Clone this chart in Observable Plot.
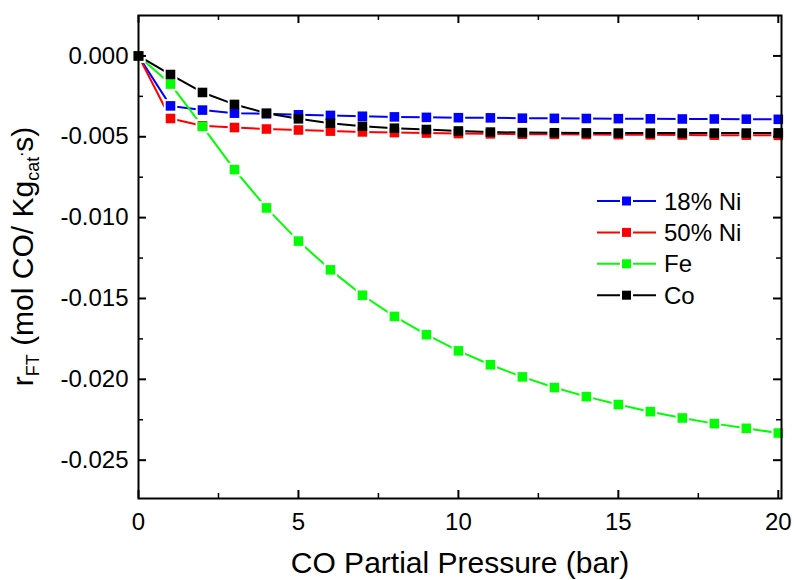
<!DOCTYPE html>
<html>
<head>
<meta charset="utf-8">
<script src="https://cdn.jsdelivr.net/npm/d3@7"></script>
<script src="https://cdn.jsdelivr.net/npm/@observablehq/plot@0.6"></script>
<style>
  html, body { margin: 0; padding: 0; background: #fff; }
  #chart { width: 794px; height: 580px; }
</style>
</head>
<body>
<div id="chart"></div>
<script>
// ---- data ----
const pressure = [0,1,2,3,4,5,6,7,8,9,10,11,12,13,14,15,16,17,18,19,20];
const seriesNames = ["18% Ni", "50% Ni", "Fe", "Co"];
const seriesColors = ["#0000ff", "#ff0000", "#00ff00", "#000000"];
const ni18 = [0, -0.00309, -0.00335, -0.00354, -0.00358, -0.00364, -0.00368, -0.00373, -0.00377, -0.0038, -0.00382, -0.00383, -0.00385, -0.00386, -0.00387, -0.00388, -0.00389, -0.0039, -0.0039, -0.00391, -0.00392];
const ni50 = [0, -0.00387, -0.00432, -0.00443, -0.00452, -0.00458, -0.00465, -0.0047, -0.00474, -0.00477, -0.0048, -0.00482, -0.00484, -0.00485, -0.00486, -0.00487, -0.00488, -0.00489, -0.0049, -0.0049, -0.00491];
const fe   = [0, -0.00174, -0.00436, -0.00703, -0.0094, -0.01145, -0.01323, -0.0148, -0.01611, -0.01724, -0.01824, -0.0191, -0.01985, -0.02051, -0.02107, -0.02156, -0.022, -0.02239, -0.02274, -0.02303, -0.02332];
const co   = [0, -0.00115, -0.00226, -0.003, -0.00354, -0.00389, -0.00416, -0.00435, -0.00447, -0.00455, -0.00464, -0.00471, -0.00474, -0.00475, -0.00476, -0.00477, -0.00477, -0.00477, -0.00477, -0.00477, -0.00476];
const seriesValues = [ni18, ni50, fe, co];
const xMajor = [0, 5, 10, 15, 20];
const xMinor = [2.5, 7.5, 12.5, 17.5];
const yMajor = [0, -0.005, -0.010, -0.015, -0.020, -0.025];
const yMinor = [-0.0025, -0.0075, -0.0125, -0.0175, -0.0225];
const xTitle = "CO Partial Pressure (bar)";

// ---- table ----
const rows = [];
seriesNames.forEach((name, i) => {
  pressure.forEach((p, j) => rows.push({series: name, color: seriesColors[i], x: p, y: seriesValues[i][j]}));
});

const W = 794, H = 580;
const mL = 138, mR = 13, mT = 15, mB = 82;
const pw = W - mL - mR, ph = H - mT - mB;
const majorLen = 8, minorLen = 5;

const lineMarks = seriesNames.map((name, i) =>
  Plot.line(rows.filter(d => d.series === name), {x: "x", y: "y", stroke: seriesColors[i], strokeWidth: 2}));
const haloMarks = seriesNames.map((name, i) =>
  Plot.dot(rows.filter(d => d.series === name), {x: "x", y: "y", symbol: "square", r: 7.6, fill: "white", stroke: "none"}));
const dotMarks = seriesNames.map((name, i) =>
  Plot.dot(rows.filter(d => d.series === name), {x: "x", y: "y", symbol: "square", r: 5.4, fill: seriesColors[i], stroke: "none"}));

const chart = Plot.plot({
  width: W, height: H,
  marginLeft: mL, marginRight: mR, marginTop: mT, marginBottom: mB,
  style: {fontFamily: "'Liberation Sans', Arial, sans-serif", fontSize: "24px", color: "black", background: "white"},
  x: {domain: [0, 20.1], ticks: xMajor, tickSize: 0, tickPadding: 14, tickFormat: d => String(d), label: null},
  y: {domain: [-0.02737, 0.0025], ticks: yMajor, tickSize: 0, tickPadding: 10, tickFormat: d => (Math.abs(d) < 1e-12 ? 0 : d).toFixed(3), label: null},
  marks: [
    ...lineMarks,
    ...haloMarks,
    ...dotMarks,
    // inward ticks on all four sides
    Plot.tickX(xMajor, {x: d => d, insetTop: ph - majorLen, stroke: "black", strokeWidth: 2}),
    Plot.tickX(xMajor, {x: d => d, insetBottom: ph - majorLen, stroke: "black", strokeWidth: 2}),
    Plot.tickX(xMinor, {x: d => d, insetTop: ph - minorLen, stroke: "black", strokeWidth: 1.5}),
    Plot.tickX(xMinor, {x: d => d, insetBottom: ph - minorLen, stroke: "black", strokeWidth: 1.5}),
    Plot.tickY(yMajor, {y: d => d, insetRight: pw - majorLen, stroke: "black", strokeWidth: 2}),
    Plot.tickY(yMajor, {y: d => d, insetLeft: pw - majorLen, stroke: "black", strokeWidth: 2}),
    Plot.tickY(yMinor, {y: d => d, insetRight: pw - minorLen, stroke: "black", strokeWidth: 1.5}),
    Plot.tickY(yMinor, {y: d => d, insetLeft: pw - minorLen, stroke: "black", strokeWidth: 1.5}),
    Plot.frame({stroke: "black", strokeWidth: 2}),
    Plot.text([xTitle], {frameAnchor: "bottom", dy: 65, lineAnchor: "middle", fontSize: 30, fill: "black"})
  ]
});
document.getElementById("chart").appendChild(chart);

// ---- y-axis title with sub/superscripts ----
const svg = d3.select(chart);
const yt = svg.append("text")
  .attr("transform", `translate(33, ${mT + ph / 2}) rotate(-90)`)
  .attr("text-anchor", "middle")
  .attr("font-size", 30)
  .attr("fill", "black");
yt.append("tspan").text("r");
yt.append("tspan").attr("font-size", 18).attr("dy", 6).text("FT");
yt.append("tspan").attr("dy", -6).text(" (mol CO/ Kg");
yt.append("tspan").attr("font-size", 18).attr("dy", 6).text("cat");
yt.append("tspan").attr("font-size", 18).attr("dy", -16).text(".");
yt.append("tspan").attr("dy", 10).text("s)");

// ---- legend (key) ----
const lg = svg.append("g").attr("text-anchor", "start");
const legendX0 = 597, legendX1 = 656, legendM = 626.5, legendT = 664;
const legendY0 = 201, legendStep = 31.4;
seriesNames.forEach((name, i) => {
  const yy = legendY0 + i * legendStep;
  lg.append("line").attr("x1", legendX0).attr("x2", legendX1).attr("y1", yy).attr("y2", yy)
    .attr("stroke", seriesColors[i]).attr("stroke-width", 2);
  lg.append("rect").attr("x", legendM - 6.5).attr("y", yy - 6.5).attr("width", 13).attr("height", 13).attr("fill", "white");
  lg.append("rect").attr("x", legendM - 4.5).attr("y", yy - 4.5).attr("width", 9).attr("height", 9).attr("fill", seriesColors[i]);
  lg.append("text").attr("x", legendT).attr("y", yy).attr("dy", "0.36em").attr("font-size", 24)
    .attr("text-anchor", "start").attr("fill", "black").text(name);
});
</script>
</body>
</html>
